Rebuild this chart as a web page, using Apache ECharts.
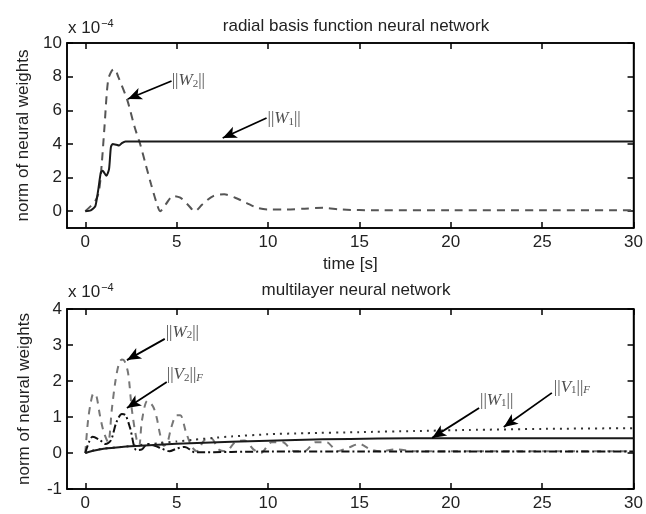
<!DOCTYPE html>
<html><head><meta charset="utf-8">
<script src="https://cdn.jsdelivr.net/npm/echarts@6/dist/echarts.min.js"></script>
<style>html,body{margin:0;padding:0;background:#fff}#c{width:646px;height:514px}</style>
</head><body><div id="c"></div>
<script>
// ---- data: top plot (radial basis function NN) ----
const topW1_t = [0, 0.3, 0.55, 0.7, 0.85, 0.95, 1.15, 1.3, 1.4, 1.5, 1.7, 1.85, 2.0, 2.2, 30];
const topW1_v = [0, 0.05, 0.3, 1.2, 2.3, 2.4, 2.1, 2.5, 3.8, 4.0, 3.95, 3.9, 4.05, 4.15, 4.15];
const topW2_t = [0, 0.3, 0.55, 0.75, 0.9, 1.05, 1.25, 1.45, 1.6, 1.8, 2.3, 2.7, 3.0, 3.3, 3.6, 3.9, 4.1, 4.4, 4.8, 5.2, 5.6, 6.0, 6.4, 7.0, 7.6, 8.2, 8.8, 9.4, 10, 11, 12, 13, 14, 16, 20, 25, 30];
const topW2_v = [0, 0.3, 0.6, 1.2, 2.8, 5.0, 7.8, 8.35, 8.45, 8.0, 6.6, 5.0, 4.0, 2.8, 1.6, 0.5, 0.0, 0.4, 0.9, 0.8, 0.4, 0.0, 0.4, 0.9, 1.0, 0.8, 0.5, 0.2, 0.1, 0.1, 0.15, 0.2, 0.1, 0.05, 0.05, 0.05, 0.05];
// ---- data: bottom plot (multilayer NN) ----
const botW1_t = [0, 0.5, 1, 2, 3, 5, 8, 10, 13, 16, 20, 25, 30];
const botW1_v = [0, 0.07, 0.12, 0.17, 0.2, 0.26, 0.31, 0.34, 0.38, 0.4, 0.41, 0.41, 0.41];
const botV1_t = [0, 0.5, 1, 2, 3, 4, 5, 6, 7, 8, 10, 12, 15, 18, 21, 25, 30];
const botV1_v = [0, 0.08, 0.12, 0.17, 0.22, 0.27, 0.32, 0.37, 0.42, 0.46, 0.52, 0.55, 0.58, 0.61, 0.64, 0.67, 0.69];
const botV2_t = [0, 0.2, 0.4, 0.8, 1.1, 1.4, 1.7, 2.0, 2.2, 2.45, 2.8, 3.1, 3.4, 3.8, 4.2, 4.6, 5.0, 5.45, 6, 8, 10, 15, 20, 25, 30];
const botV2_v = [0, 0.3, 0.45, 0.36, 0.25, 0.35, 0.85, 1.08, 1.05, 0.7, 0.08, 0.1, 0.25, 0.2, 0.12, 0.05, 0.12, 0.17, 0.02, 0.03, 0.04, 0.04, 0.04, 0.04, 0.04];
const botW2_t = [0, 0.15, 0.3, 0.45, 0.6, 0.8, 1.0, 1.25, 1.45, 1.65, 1.85, 2.0, 2.15, 2.35, 2.55, 2.8, 2.95, 3.1, 3.4, 3.7, 3.9, 4.1, 4.3, 4.5, 4.7, 5.0, 5.2, 5.5, 5.8, 6.1, 6.5, 6.9, 7.3, 7.7, 8.2, 8.7, 9.2, 9.6, 10.2, 10.8, 11.4, 12, 12.6, 13.2, 13.8, 14.4, 15, 15.6, 16.2, 17, 18, 20, 30];
const botW2_v = [0, 0.9, 1.4, 1.65, 1.6, 1.05, 0.6, 0.3, 1.2, 2.0, 2.5, 2.6, 2.55, 2.2, 1.2, 0.4, 0.2, 0.9, 1.45, 1.3, 1.0, 0.5, 0.2, 0.3, 0.7, 1.05, 1.05, 0.6, 0.2, 0.05, 0.35, 0.4, 0.1, 0.05, 0.3, 0.35, 0.1, 0.0, 0.3, 0.3, 0.05, 0.05, 0.3, 0.3, 0.05, 0.15, 0.25, 0.1, 0.05, 0.1, 0.05, 0.05, 0.05];
// ---- axis ticks ----
const xTicks = [0, 5, 10, 15, 20, 25, 30];
const topYTicks = [0, 2, 4, 6, 8, 10];
const botYTicks = [-1, 0, 1, 2, 3, 4];
// ---- annotations (label anchor, arrow start, arrow tip) in data units ----
const topNotes = [
  {text: '{n|||}{i|W}{s|2}{n|||}', label: [4.73, 7.74], from: [4.72, 7.74], to: [2.33, 6.67]},
  {text: '{n|||}{i|W}{s|1}{n|||}', label: [9.97, 5.48], from: [9.92, 5.54], to: [7.52, 4.35]}
];
const botNotes = [
  {text: '{n|||}{i|W}{s|2}{n|||}', label: [4.4, 3.36], from: [4.35, 3.17], to: [2.28, 2.58]},
  {text: '{n|||}{i|V}{s|2}{n|||}{f|F}', label: [4.46, 2.17], from: [4.46, 1.97], to: [2.28, 1.25]},
  {text: '{n|||}{i|W}{s|1}{n|||}', label: [21.6, 1.47], from: [21.55, 1.25], to: [18.98, 0.42]},
  {text: '{n|||}{i|V}{s|1}{n|||}{f|F}', label: [25.64, 1.83], from: [25.53, 1.67], to: [22.9, 0.72]}
];

const pairs = (t, v) => t.map((x, i) => [x, v[i]]);
const FONT = 'Liberation Sans';
const rich = {
  n: {fontFamily: 'Liberation Serif', fontSize: 17, color: '#222'},
  i: {fontFamily: 'Liberation Serif', fontStyle: 'italic', fontSize: 17, color: '#222'},
  s: {fontFamily: 'Liberation Serif', fontSize: 11, color: '#222', verticalAlign: 'bottom', padding: [6, 0, 0, 0]},
  f: {fontFamily: 'Liberation Serif', fontStyle: 'italic', fontSize: 11, color: '#222', padding: [6, 0, 0, 0]}
};

const grids = [
  {left: 67, right: 11, top: 43, height: 185, show: true, borderColor: '#000', borderWidth: 1.5},
  {left: 67, right: 11, top: 309, height: 180, show: true, borderColor: '#000', borderWidth: 1.5}
];
function xAx(gi, pos, labels, name) {
  return {
    type: 'value', gridIndex: gi, position: pos, min: -1, max: 30,
    axisLine: {show: true, onZero: false, lineStyle: {color: '#000', width: 1.5}},
    axisTick: {show: true, inside: true, length: 6, customValues: xTicks, lineStyle: {color: '#000', width: 1.5}},
    axisLabel: {show: labels, customValues: xTicks, color: '#222', fontSize: 17, fontFamily: FONT, margin: 6},
    splitLine: {show: false},
    name: name || '', nameLocation: 'middle', nameGap: 28,
    nameTextStyle: {color: '#222', fontSize: 17, fontFamily: FONT}
  };
}
function yAx(gi, pos, labels, min, max, ticks) {
  return {
    type: 'value', gridIndex: gi, position: pos, min: min, max: max,
    axisLine: {show: true, onZero: false, lineStyle: {color: '#000', width: 1.5}},
    axisTick: {show: true, inside: true, length: 6, customValues: ticks, lineStyle: {color: '#000', width: 1.5}},
    axisLabel: {show: labels, customValues: ticks, color: '#222', fontSize: 17, fontFamily: FONT, margin: 5},
    splitLine: {show: false},
    name: labels ? 'norm of neural weights' : '', nameLocation: 'middle', nameGap: 34, nameRotate: 90,
    nameTextStyle: {color: '#222', fontSize: 17, fontFamily: FONT}
  };
}
function line(data, xi, yi, color, width, type, smooth) {
  return {type: 'line', xAxisIndex: xi, yAxisIndex: yi, data: data, showSymbol: false, smooth: smooth,
    lineStyle: {color: color, width: width, type: type}, silent: true, animation: false, z: 3};
}
function notes(list, xi, yi) {
  return [{
    type: 'scatter', xAxisIndex: xi, yAxisIndex: yi, symbolSize: 0, silent: true, animation: false, z: 5,
    data: list.map(n => ({value: n.label, label: {show: true, position: 'right', distance: 0, formatter: n.text, rich: rich}})),
    markLine: {
      silent: true, animation: false, symbol: ['none', 'arrow'], symbolSize: [9, 14],
      lineStyle: {color: '#000', width: 1.8, type: 'solid'}, label: {show: false},
      data: list.map(n => [{coord: n.from}, {coord: n.to}])
    }
  }];
}

const option = {
  backgroundColor: '#fff',
  animation: false,
  title: [
    {text: 'radial basis function neural network', left: 351, top: 13, textAlign: 'center',
     textStyle: {fontWeight: 'normal', fontSize: 17, fontFamily: FONT, color: '#222'}},
    {text: 'multilayer neural network', left: 351, top: 277, textAlign: 'center',
     textStyle: {fontWeight: 'normal', fontSize: 17, fontFamily: FONT, color: '#222'}}
  ],
  grid: grids,
  xAxis: [xAx(0, 'bottom', true, 'time [s]'), xAx(0, 'top', false), xAx(1, 'bottom', true), xAx(1, 'top', false)],
  yAxis: [yAx(0, 'left', true, -1, 10, topYTicks), yAx(0, 'right', false, -1, 10, topYTicks),
          yAx(1, 'left', true, -1, 4, botYTicks), yAx(1, 'right', false, -1, 4, botYTicks)],
  graphic: [
    {type: 'text', left: 68, top: 18, style: {text: '{a|x 10}{b|−4}', rich: {a: {fontSize: 17, fontFamily: FONT, fill: '#222'}, b: {fontSize: 11, fontFamily: FONT, fill: '#222', verticalAlign: 'top', padding: [0, 0, 10, 1]}}}},
    {type: 'text', left: 68, top: 282, style: {text: '{a|x 10}{b|−4}', rich: {a: {fontSize: 17, fontFamily: FONT, fill: '#222'}, b: {fontSize: 11, fontFamily: FONT, fill: '#222', verticalAlign: 'top', padding: [0, 0, 10, 1]}}}}
  ],
  series: [
    line(pairs(topW2_t, topW2_v), 0, 0, '#555', 2, [8, 6], 0.3),
    line(pairs(topW1_t, topW1_v), 0, 0, '#1a1a1a', 2, 'solid', 0.2),
    line(pairs(botW2_t, botW2_v), 2, 2, '#777', 2, [7, 6], 0.3),
    line(pairs(botV1_t, botV1_v), 2, 2, '#333', 2, [2, 5], 0.2),
    line(pairs(botV2_t, botV2_v), 2, 2, '#111', 2, [8, 3, 2, 3], 0.3),
    line(pairs(botW1_t, botW1_v), 2, 2, '#1a1a1a', 2, 'solid', 0.2),
    ...notes(topNotes, 0, 0),
    ...notes(botNotes, 2, 2)
  ]
};
const chart = echarts.init(document.getElementById('c'), null, {renderer: 'canvas'});
chart.setOption(option);
</script></body></html>
